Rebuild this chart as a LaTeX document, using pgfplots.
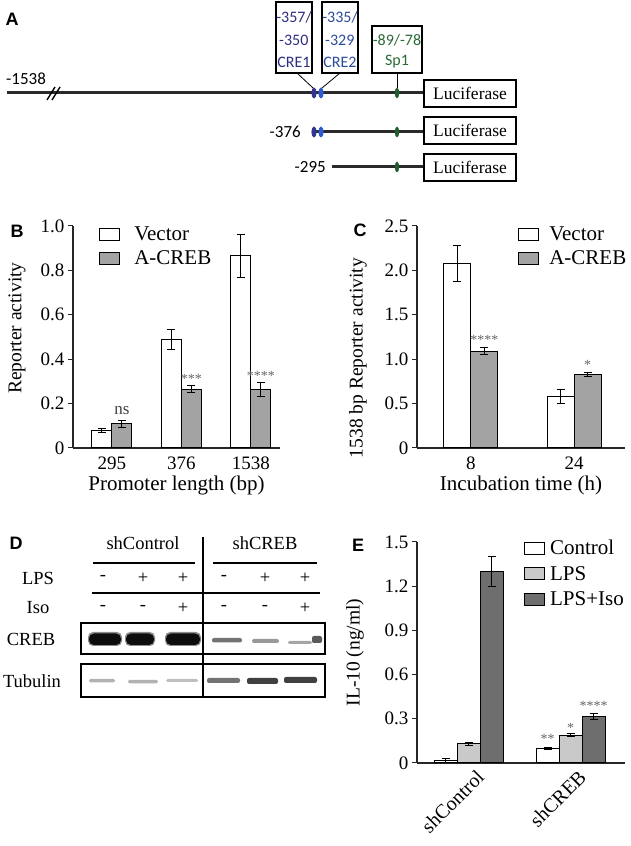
\documentclass[border=0pt]{standalone}
\usepackage{pgfplots}
\pgfplotsset{compat=1.18}
\usepackage{fontspec}
\setmainfont{Liberation Serif}
\newfontfamily\arial{Liberation Sans}
\newfontfamily\calib{Carlito}
\newcommand{\fs}[1]{\fontsize{#1}{#1}\selectfont}

\definecolor{acreb}{HTML}{A3A3A3}
\definecolor{lps}{HTML}{C9C9C9}
\definecolor{lpsiso}{HTML}{6E6E6E}
\definecolor{creA}{HTML}{35358F}
\definecolor{creB}{HTML}{2F5BD0}
\definecolor{spone}{HTML}{1F5F2E}
\definecolor{creAt}{HTML}{2E2E80}
\definecolor{creBt}{HTML}{2B4C9B}
\definecolor{sponet}{HTML}{2A6A35}
\definecolor{dna}{HTML}{2A2A2A}

\pgfplotsset{
  /pgfplots/ybar legend/.style={/pgfplots/legend image code/.code={%
    \draw[##1, line width=1pt] (0pt,-6pt) rectangle (20pt,6pt);}},
  panel/.style={
    scale only axis, axis lines*=left,
    axis line style={line width=1.1pt, draw=black!85, -},
    tick align=outside, major tick length=5pt,
    xtick style={draw=none},
    ytick style={line width=1pt, draw=black!85},
    /pgf/number format/assume math mode=true,
    tick label style={font=\fs{19}},
    x label style={font=\fs{21}},
    y label style={font=\fs{19.5}},
    ybar=0pt, clip=false, ymin=0,
    every axis plot/.append style={draw=black, line width=1pt},
    legend style={draw=none, fill=none, font=\fs{21}, anchor=north west,
      inner sep=0pt, row sep=4pt, cells={anchor=west}},
  },
  ebar/.style={error bars/.cd, y dir=both, y explicit,
    error bar style={line width=1pt, black},
    error mark options={rotate=90, mark size=4pt, line width=1pt, black}},
}
\tikzset{star/.style={font=\fs{14}, text=black!60, inner sep=0pt}}

\begin{document}
\begin{tikzpicture}
\path[use as bounding box] (0,0) rectangle (630pt,846pt);

% ---------------- B ----------------
\begin{axis}[panel, at={(73pt,398pt)}, anchor=south west,
  width=207pt, height=222pt,
  xmin=-0.56, xmax=2.42, ymax=1.0, bar width=20pt,
  xtick={0,1,2}, xticklabels={295,376,1538},
  ytick={0,0.2,0.4,0.6,0.8,1.0}, yticklabels={0,0.2,0.4,0.6,0.8,1.0},
  xlabel={Promoter length (bp)}, ylabel={Reporter activity},
  y label style={at={(axis description cs:-0.27,0.54)}, anchor=center},
  legend style={at={(0.126,1.005)},
    /tikz/every odd column/.append style={column sep=12pt}}]
\addplot[fill=white, ebar] coordinates {(0,0.08) +- (0,0.01) (1,0.49) +- (0,0.046) (2,0.865) +- (0,0.097)};
\addplot[fill=acreb, ebar] coordinates {(0,0.11) +- (0,0.016) (1,0.265) +- (0,0.016) (2,0.263) +- (0,0.03)};
\legend{Vector, A-CREB}
\node[star, font=\fs{17}, text=black!75, xshift=10pt] at (axis cs:0,0.167) {ns};
\node[star, xshift=10pt] at (axis cs:1,0.31) {***};
\node[star, xshift=10pt] at (axis cs:2,0.325) {****};
\end{axis}

% ---------------- C ----------------
\begin{axis}[panel, at={(417pt,398pt)}, anchor=south west,
  width=208pt, height=222pt,
  xmin=-0.524, xmax=1.495, ymax=2.5, bar width=27pt,
  xtick={0,1}, xticklabels={8,24},
  ytick={0,0.5,1.0,1.5,2.0,2.5}, yticklabels={0,0.5,1.0,1.5,2.0,2.5},
  xlabel={Incubation time (h)}, ylabel={1538 bp Reporter activity},
  y label style={at={(axis description cs:-0.284,0.405)}, anchor=center},
  legend style={at={(0.486,1.005)},
    /tikz/every odd column/.append style={column sep=8pt}}]
\addplot[fill=white, ebar] coordinates {(0,2.08) +- (0,0.2) (1,0.58) +- (0,0.08)};
\addplot[fill=acreb, ebar] coordinates {(0,1.09) +- (0,0.04) (1,0.83) +- (0,0.02)};
\legend{Vector, A-CREB}
\node[star, xshift=13.5pt] at (axis cs:0,1.22) {****};
\node[star, xshift=13.5pt] at (axis cs:1,0.94) {*};
\end{axis}

% ---------------- E ----------------
\begin{axis}[panel, at={(417pt,83pt)}, anchor=south west,
  width=208pt, height=221pt,
  xmin=-0.505, xmax=1.534, ymax=1.5, bar width=23pt,
  xtick={0,1}, xticklabels={shControl,shCREB},
  xticklabel style={rotate=45, anchor=north east, font=\fs{20}, xshift=8pt, yshift=-2pt},
  ytick={0,0.3,0.6,0.9,1.2,1.5}, yticklabels={0,0.3,0.6,0.9,1.2,1.5},
  ylabel={IL-10 (ng/ml)},
  y label style={at={(axis description cs:-0.298,0.5)}, anchor=center},
  legend style={at={(0.514,1.018)}, row sep=6pt,
    /tikz/every odd column/.append style={column sep=3pt}}]
\addplot[fill=white, ebar] coordinates {(0,0.018) +- (0,0.015) (1,0.10) +- (0,0.007)};
\addplot[fill=lps, ebar] coordinates {(0,0.13) +- (0,0.01) (1,0.19) +- (0,0.012)};
\addplot[fill=lpsiso, ebar] coordinates {(0,1.30) +- (0,0.10) (1,0.315) +- (0,0.022)};
\legend{Control, LPS, LPS+Iso}
\node[star, xshift=-23pt] at (axis cs:1,0.165) {**};
\node[star] at (axis cs:1,0.24) {*};
\node[star, xshift=23pt] at (axis cs:1,0.385) {****};
\end{axis}

% ---------------- drawings (pixel coordinates, y down) ----------------
\begin{scope}[x=1pt, y=-1pt, yshift=846pt]
% panel letters
\node[font=\arial\bfseries\fs{18}] at (12,19) {A};
\node[font=\arial\bfseries\fs{18}] at (17,231) {B};
\node[font=\arial\bfseries\fs{18}] at (360,230) {C};
\node[font=\arial\bfseries\fs{18}] at (16,543) {D};
\node[font=\arial\bfseries\fs{18}] at (358,545) {E};

% ---- A: promoter constructs ----
\draw[dna, line width=3pt] (7,93) -- (424,93);
\draw[dna, line width=3pt] (313,132) -- (424,132);
\draw[dna, line width=3pt] (332,167) -- (424,167);
\draw[black, line width=1.4pt] (47,100) -- (55,87);
\draw[black, line width=1.4pt] (52,100) -- (60,87);
\node[font=\calib\fs{17}, anchor=west, inner sep=0pt] at (6,79) {-1538};
\node[font=\calib\fs{17}, anchor=east, inner sep=0pt] at (301,132) {-376};
\node[font=\calib\fs{17}, anchor=east, inner sep=0pt] at (326,167) {-295};
\foreach \yy in {93,132} {
  \fill[creA] (314,\yy) ellipse (2.6 and 5.5);
  \fill[creB] (321,\yy) ellipse (2.6 and 5.5);
}
\foreach \yy in {93,132,167} \fill[spone] (397,\yy) ellipse (2.2 and 5.5);
\foreach \yy in {80,117,154}
  \draw[line width=1.2pt] (424,\yy) rectangle (516,\yy+27);
\foreach \yy in {93.5,130.5,167.5}
  \node[font=\fs{17.5}] at (470,\yy) {Luciferase};
% callouts
\draw[line width=1.2pt] (276,2) rectangle (312,73);
\draw[line width=1.2pt] (322,2) rectangle (358,73);
\draw[line width=1.2pt] (372,26) rectangle (422,73);
\draw[line width=0.8pt] (297,73) -- (313,88);
\draw[line width=0.8pt] (340,73) -- (322,88);
\draw[line width=0.8pt] (397,73) -- (397,88);
\begin{scope}[every node/.style={font=\calib\fs{16}, inner sep=0pt}]
\node[text=creAt] at (294,17) {-357/};
\node[text=creAt, anchor=west] at (279,40) {-350};
\node[text=creAt] at (294,62) {CRE1};
\node[text=creBt] at (340,17) {-335/};
\node[text=creBt, anchor=west] at (325,40) {-329};
\node[text=creBt] at (340,62) {CRE2};
\node[text=sponet] at (397,40) {-89/-78};
\node[text=sponet] at (397,62) {Sp1};
\end{scope}

% ---- D: western blot ----
\begin{scope}[every node/.style={font=\fs{18.5}, inner sep=0pt}]
\node at (143,543) {shControl};
\node at (265,543) {shCREB};
\node at (38,578) {LPS};
\node at (38,608) {Iso};
\node at (31,639) {CREB};
\node at (32,681) {Tubulin};
\foreach \xx/\s in {103/-,143/+,183/+,224/-,265/+,305/+} \node at (\xx,578) {\s};
\foreach \xx/\s in {103/-,143/-,183/+,224/-,265/-,305/+} \node at (\xx,608) {\s};
\end{scope}
\draw[line width=1.2pt] (93,563) -- (195,563);
\draw[line width=1.2pt] (213,563) -- (317,563);
\draw[line width=1.2pt] (92,593) -- (320,593);
\draw[line width=1.2pt] (203,537) -- (203,697);
\draw[line width=1.2pt] (81,623) rectangle (325,654);
\draw[line width=1.2pt] (81,664) rectangle (325,697);
% CREB bands
\foreach \xx/\w in {105/32,140/28,183/34} {
  \fill[black!45, rounded corners=5pt] (\xx-\w/2-1,632) rectangle (\xx+\w/2+1,646);
  \fill[black!95, rounded corners=5pt] (\xx-\w/2,633.5) rectangle (\xx+\w/2,645);
}
\fill[black!55, rounded corners=2pt] (212,638) rectangle (242,642.5);
\fill[black!40, rounded corners=2pt] (252,639) rectangle (279,643);
\fill[black!35, rounded corners=2pt] (288,641) rectangle (312,644);
\fill[black!65, rounded corners=2pt] (312,636) rectangle (322,643);
% Tubulin bands
\fill[black!30, rounded corners=1.5pt] (89,679) rectangle (115,682.5);
\fill[black!30, rounded corners=1.5pt] (128,680) rectangle (158,683.5);
\fill[black!25, rounded corners=1.5pt] (166,679) rectangle (198,682);
\fill[black!55, rounded corners=2pt] (207,678) rectangle (240,683);
\fill[black!75, rounded corners=2pt] (247,678) rectangle (278,684);
\fill[black!75, rounded corners=2pt] (284,677) rectangle (317,683);
\end{scope}
\end{tikzpicture}
\end{document}
